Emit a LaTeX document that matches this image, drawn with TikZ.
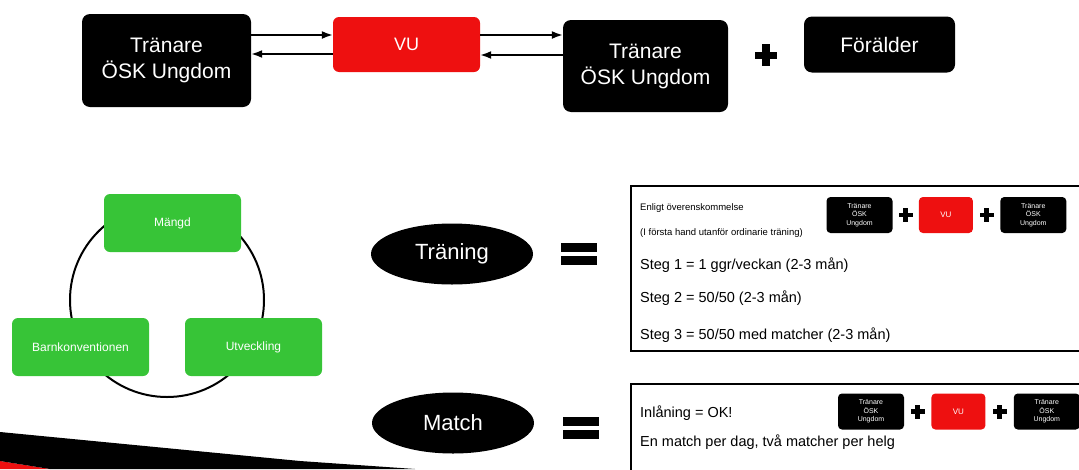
\documentclass[tikz,border=0pt]{standalone}
\usepackage{fontspec}
\setmainfont{Liberation Sans}
\usetikzlibrary{shapes.geometric,positioning,calc,arrows.meta}
\definecolor{vured}{RGB}{238,16,16}
\definecolor{leafgreen}{RGB}{55,196,55}
\tikzset{
  pics/plusmark/.style={code={
    \fill (-#1,-0.34*#1) rectangle (#1,0.34*#1);
    \fill (-0.34*#1,-#1) rectangle (0.34*#1,#1);
  }},
  pics/equalmark/.style={code={
    \fill (-18,-11) rectangle (18,-2);
    \fill (-18,2) rectangle (18,11);
  }}
}

\begin{document}
\begin{tikzpicture}[x=1pt,y=-1pt,>={Latex[length=11pt,width=8pt]},
  coach/.style={fill=black,text=white,rounded corners=8pt,align=center,inner sep=0pt,font=\fontsize{21}{26}\selectfont},
  vubox/.style={fill=vured,text=white,rounded corners=6pt,inner sep=0pt,font=\fontsize{18}{20}\selectfont},
  minicoach/.style={fill=black,text=white,rounded corners=4pt,align=center,inner sep=0pt,minimum width=66pt,minimum height=36pt,font=\fontsize{7}{8.5}\selectfont},
  minivu/.style={fill=vured,text=white,rounded corners=4pt,inner sep=0pt,minimum width=54pt,minimum height=36pt,font=\fontsize{8}{9}\selectfont},
  pillar/.style={fill=leafgreen,text=white,rounded corners=6pt,inner sep=0pt,minimum width=137pt,minimum height=58pt,font=\fontsize{12}{14}\selectfont},
  oval/.style={ellipse,fill=black,text=white,inner sep=0pt,minimum width=162pt,minimum height=61pt,font=\fontsize{22}{26}\selectfont},
  infobox/.style={draw=black,line width=2pt,inner sep=0pt,anchor=north west},
  stepline/.style={anchor=west,inner sep=0pt,font=\fontsize{14.5}{17}\selectfont},
  infotext/.style={anchor=west,inner sep=0pt,font=\fontsize{9.5}{11}\selectfont}]

\useasboundingbox (0,0) rectangle (1079,469);
\clip (0,0) rectangle (1079,469);

\node[coach,minimum width=169pt,minimum height=93pt] (coachA) at (166.5,60.5) {Tränare\\ÖSK Ungdom};
\node[vubox,minimum width=147pt,minimum height=55pt] (vu) at (406.5,44.5) {VU};
\node[coach,minimum width=165pt,minimum height=92pt] (coachB) at (645.5,66) {Tränare\\ÖSK Ungdom};
\node[coach,minimum width=151pt,minimum height=56pt] (parent) at (879.5,44.5) {Förälder};
\pic at ($(coachB.east)!0.5!(parent.west)$) {plusmark=11};

\draw[->,line width=1.8pt] (coachA.east |- 0,35) -- (vu.west |- 0,35);
\draw[<-,line width=1.8pt] (coachA.east |- 0,54) -- (vu.west |- 0,54);
\draw[->,line width=1.8pt] (vu.east |- 0,35) -- (coachB.west |- 0,35);
\draw[<-,line width=1.8pt] (vu.east |- 0,55) -- (coachB.west |- 0,55);

\draw[line width=2pt] (167,300) circle (97pt);
\node[pillar] (amount) at (172.5,223) {Mängd};
\node[pillar] (rights) at (80.5,347) {Barnkonventionen};
\node[pillar] (growth) at (253.5,347) {Utveckling};

\node[oval] (training) at (452,254) {Träning};
\node[oval] (match) at (453,423) {Match};
\pic at ($(training.east)+(46,0)$) {equalmark};
\pic at ($(match.east)+(47,5)$) {equalmark};

\node[infobox,minimum width=470pt,minimum height=165pt] (trainbox) at (630,185) {};
\node[infobox,minimum width=470pt,minimum height=120pt] (matchbox) at (630,383) {};

\node[infotext] (agreed) at (640,208) {Enligt överenskommelse};
\node[infotext] (outside) at (640,233) {(I första hand utanför ordinarie träning)};
\node[stepline] (step1) at (640,265) {Steg 1 = 1 ggr/veckan (2-3 mån)};
\node[stepline] (step2) at (640,298) {Steg 2 = 50/50 (2-3 mån)};
\node[stepline] (step3) at (640,335) {Steg 3 = 50/50 med matcher (2-3 mån)};

\node[minicoach] (tcoachA) at (859.5,215) {Tränare\\ÖSK\\Ungdom};
\node[minivu,right=26pt of tcoachA] (tvu) {VU};
\node[minicoach,right=27pt of tvu] (tcoachB) {Tränare\\ÖSK\\Ungdom};
\pic at ($(tcoachA.east)!0.5!(tvu.west)$) {plusmark=7};
\pic at ($(tvu.east)!0.5!(tcoachB.west)$) {plusmark=7};

\node[stepline] (loan) at (640,413) {Inlåning = OK!};
\node[stepline] (perday) at (640,442) {En match per dag, två matcher per helg};

\node[minicoach] (mcoachA) at (871,411.5) {Tränare\\ÖSK\\Ungdom};
\node[minivu,right=27pt of mcoachA] (mvu) {VU};
\node[minicoach,right=28pt of mvu] (mcoachB) {Tränare\\ÖSK\\Ungdom};
\pic at ($(mcoachA.east)!0.5!(mvu.west)$) {plusmark=7};
\pic at ($(mvu.east)!0.5!(mcoachB.west)$) {plusmark=7};

\fill[vured] (0,461) -- (50,469) -- (0,469) -- cycle;
\fill[black] (0,432) -- (300,461) -- (415,469) -- (50,469) -- (0,461) -- cycle;
\end{tikzpicture}
\end{document}
